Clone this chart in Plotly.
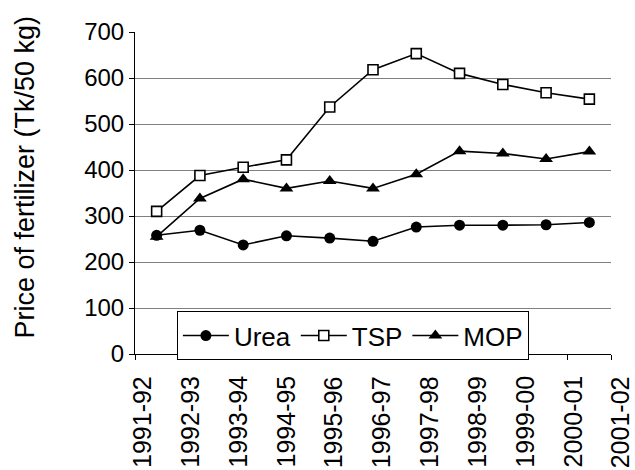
import plotly.graph_objects as go

years = ["1991-92", "1992-93", "1993-94", "1994-95", "1995-96", "1996-97",
         "1997-98", "1998-99", "1999-00", "2000-01", "2001-02"]
urea = [258, 269, 237, 257, 252, 245, 276, 280, 280, 281, 286]
tsp = [310, 388, 406, 422, 537, 618, 653, 610, 586, 568, 554]
mop = [255, 338, 380, 360, 376, 360, 391, 441, 436, 424, 440]

FONT = "Liberation Sans"
xs = [i + 0.5 for i in range(len(years))]

fig = go.Figure()
fig.add_trace(go.Scatter(x=xs, y=urea, name="Urea", mode="lines+markers",
                         line=dict(color="black", width=1.6),
                         marker=dict(symbol="circle", size=11, color="black")))
fig.add_trace(go.Scatter(x=xs, y=tsp, name="TSP", mode="lines+markers",
                         line=dict(color="black", width=1.6),
                         marker=dict(symbol="square", size=10, color="white",
                                     line=dict(color="black", width=1.6))))
fig.add_trace(go.Scatter(x=xs, y=mop, name="MOP", mode="lines+markers",
                         line=dict(color="black", width=1.6),
                         marker=dict(symbol="triangle-up", size=12, color="black")))

# category labels (slightly wider spacing than the tick marks, as in the reference)
annotations = []
for i, lab in enumerate(years):
    annotations.append(dict(text=lab, x=(0.162 + 1.1054 * i) / 11, xref="paper",
                            y=-0.062, yref="paper", xanchor="center", yanchor="top",
                            textangle=-90, showarrow=False,
                            font=dict(family=FONT, size=25, color="black")))
annotations.append(dict(text="Price of fertilizer (Tk/50 kg)", x=-0.2305, xref="paper",
                        y=0.549, yref="paper", xanchor="center", yanchor="middle",
                        textangle=-90, showarrow=False,
                        font=dict(family=FONT, size=27, color="black")))

fig.update_layout(
    width=635, height=470,
    margin=dict(l=135, r=24, t=32, b=116),
    paper_bgcolor="white", plot_bgcolor="white",
    font=dict(family=FONT, color="black"),
    showlegend=True,
    legend=dict(orientation="h", x=0.088, y=0.133, xanchor="left", yanchor="top",
                bgcolor="white", bordercolor="black", borderwidth=1,
                font=dict(family=FONT, size=26), itemwidth=46,
                tracegroupgap=0),
    annotations=annotations,
)
fig.update_xaxes(range=[0, 11], tickvals=list(range(12)), ticktext=[""] * 12,
                 showline=True, linecolor="black", linewidth=1,
                 ticks="outside", ticklen=5, tickcolor="black",
                 showgrid=False, zeroline=False)
fig.update_yaxes(range=[0, 700], dtick=100, showline=True, linecolor="black", linewidth=1,
                 ticks="outside", ticklen=5, tickcolor="black",
                 showgrid=True, gridcolor="#808080", gridwidth=1, zeroline=False,
                 tickfont=dict(family=FONT, size=24, color="black"))

fig.write_html("out.html")
